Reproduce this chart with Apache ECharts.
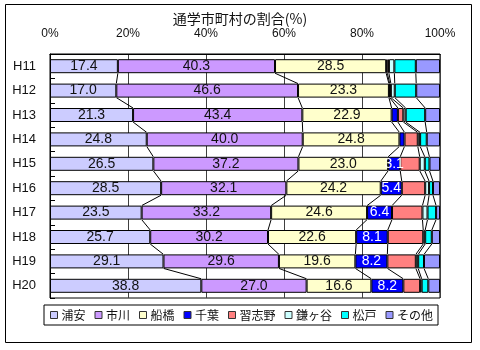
<!DOCTYPE html>
<html><head><meta charset="utf-8">
<script src="https://cdn.jsdelivr.net/npm/echarts@6/dist/echarts.min.js"></script>
<style>html,body{margin:0;padding:0;background:#fff}#c{width:480px;height:350px}</style>
</head><body><div id="c"></div>
<script>
const categories = ['H11','H12','H13','H14','H15','H16','H17','H18','H19','H20'];
const xTicks = [0,20,40,60,80,100];
const seriesNames = ['浦安','市川','船橋','千葉','習志野','鎌ヶ谷','松戸','その他'];
const urayasu   = [17.4,17.0,21.3,24.8,26.5,28.5,23.5,25.7,29.1,38.8];
const ichikawa  = [40.3,46.6,43.4,40.0,37.2,32.1,33.2,30.2,29.6,27.0];
const funabashi = [28.5,23.3,22.9,24.8,23.0,24.2,24.6,22.6,19.6,16.6];
const chiba     = [0.3,0.2,1.6,1.3,3.1,5.4,6.4,8.1,8.2,8.2];
const narashino = [0.4,0.3,1.4,3.4,5.0,6.0,7.8,9.1,7.3,4.3];
const kamagaya  = [1.4,1.0,0.6,0.6,1.3,1.0,1.3,0.5,0.6,0.4];
const matsudo   = [5.5,5.5,5.0,1.7,1.2,1.0,2.2,1.7,1.5,1.7];
const others    = [6.2,6.1,3.8,3.4,2.7,1.8,1.0,2.1,4.1,3.0];

const allData = [urayasu,ichikawa,funabashi,chiba,narashino,kamagaya,matsudo,others];
const colors = ['#CCCCFF','#CC99FF','#FFFFCC','#0000FF','#FF8080','#CCFFFF','#00FFFF','#9999FF'];
const labelColors = ['#111','#111','#111','#fff',null,null,null,null];
const BAR_W = 14;

// cumulative boundaries per category
const cum = categories.map((c,i)=>{
  let s = 0; const arr = [];
  allData.forEach(d=>{ s += d[i]; arr.push(s); });
  return arr;
});

const series = allData.map((d,k)=>({
  name: seriesNames[k],
  type: 'bar',
  stack: 'total',
  barWidth: BAR_W,
  data: d,
  itemStyle: {color: colors[k], borderColor: '#000', borderWidth: 1},
  label: labelColors[k] ? {
    show: true, position: 'inside', color: labelColors[k],
    fontFamily: 'Liberation Sans, Arial, sans-serif', fontSize: 14,
    formatter: p => (k < 3 || p.value >= 3) ? p.value.toFixed(1) : ''
  } : {show:false},
  emphasis: {disabled: true},
  animation: false
}));

series.push({
  type: 'custom',
  name: 'series-lines',
  coordinateSystem: 'cartesian2d',
  z: 5,
  silent: true,
  animation: false,
  data: categories.slice(0,-1).map((c,i)=>[0,i]),
  encode: {x: 0, y: 1},
  renderItem: function(params, api){
    const i = api.value(1);
    const children = [];
    for (let k = 0; k < allData.length - 1; k++) {
      const p1 = api.coord([cum[i][k], i]);
      const p2 = api.coord([cum[i+1][k], i+1]);
      children.push({
        type: 'line',
        shape: {x1: p1[0], y1: p1[1] + BAR_W/2, x2: p2[0], y2: p2[1] - BAR_W/2},
        style: {stroke: '#000', lineWidth: 1}
      });
    }
    return {type: 'group', children: children};
  }
});

const chart = echarts.init(document.getElementById('c'), null, {renderer: 'canvas'});
chart.setOption({
  backgroundColor: '#fff',
  animation: false,
  title: {
    text: '通学市町村の割合(%)',
    left: 'center', top: 7,
    textStyle: {fontSize: 14, fontWeight: 'normal', color: '#111', fontFamily: 'Noto Sans CJK JP, sans-serif'}
  },
  graphic: [{
    type: 'rect', shape: {x: 5.5, y: 4.5, width: 466, height: 338},
    style: {fill: 'none', stroke: '#000', lineWidth: 1}, silent: true, z: -10
  }],
  legend: {
    data: seriesNames,
    left: 44, top: 305,
    itemWidth: 7, itemHeight: 7, itemGap: 9,
    padding: [4, 5, 4, 6],
    borderColor: '#000', borderWidth: 1,
    icon: 'rect',
    textStyle: {fontSize: 12, color: '#111', fontFamily: 'Noto Sans CJK JP, sans-serif', padding: [0,0,0,-1]},
    itemStyle: {borderColor: '#333', borderWidth: 1}
  },
  grid: {
    left: 50, right: 40, top: 54, bottom: 52,
    show: true, borderColor: '#000', borderWidth: 1, backgroundColor: 'transparent'
  },
  xAxis: {
    type: 'value', position: 'top', min: 0, max: 100, interval: 20,
    axisLine: {show: true, lineStyle: {color: '#000'}},
    axisTick: {show: false},
    splitLine: {show: true, lineStyle: {color: '#404040', width: 1}},
    axisLabel: {
      formatter: v => xTicks.includes(v) ? v + '%' : '',
      fontSize: 12, color: '#111', margin: 14,
      fontFamily: 'Liberation Sans, Arial, sans-serif'
    }
  },
  yAxis: {
    type: 'category', data: categories, inverse: true,
    axisLine: {show: true, lineStyle: {color: '#000'}},
    axisTick: {show: true, inside: true, length: 5, lineStyle: {color: '#000'}},
    axisLabel: {fontSize: 13, color: '#111', margin: 14, fontFamily: 'Liberation Sans, Arial, sans-serif'}
  },
  series: series
});
</script>
</body></html>
